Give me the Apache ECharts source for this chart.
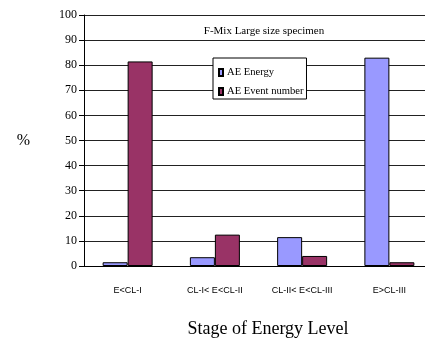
<!DOCTYPE html>
<html>
<head>
<meta charset="utf-8">
<script src="https://cdn.jsdelivr.net/npm/echarts@6/dist/echarts.min.js"></script>
<style>
  html, body { margin: 0; padding: 0; background: #fff; }
  #chart { width: 425px; height: 338px; }
</style>
</head>
<body>
<div id="chart"></div>
<script>
// Stages of energy level and AE percentages per stage
const stages = ['E<CL-I', 'CL-I< E<CL-II', 'CL-II< E<CL-III', 'E>CL-III'];
const aeEnergy = [1.5, 3.5, 11.5, 83];
const aeEventNumber = [81.5, 12.5, 4, 1.5];
const yTicks = [0, 10, 20, 30, 40, 50, 60, 70, 80, 90, 100];

const serif = '"Liberation Serif", "DejaVu Serif", serif';
const sans = '"Liberation Sans", Arial, sans-serif';

const chart = echarts.init(document.getElementById('chart'), null, { renderer: 'canvas' });

chart.setOption({
  animation: false,
  backgroundColor: '#ffffff',
  title: {
    text: 'F-Mix Large size specimen',
    left: 264,
    top: 26,
    textAlign: 'center',
    padding: 0,
    textStyle: { fontFamily: serif, fontSize: 11, fontWeight: 'normal', color: '#000' }
  },
  legend: {
    orient: 'vertical',
    left: 213,
    top: 58,
    padding: [9, 3, 2, 5],
    itemGap: 8,
    itemWidth: 4,
    itemHeight: 7,
    backgroundColor: '#ffffff',
    borderColor: '#000',
    borderWidth: 1,
    borderRadius: 0,
    icon: 'rect',
    data: ['AE Energy', 'AE Event number'],
    textStyle: { fontFamily: serif, fontSize: 10.6, lineHeight: 11, color: '#000', padding: [0, 0, 0, -1] }
  },
  grid: { left: 84, top: 15, width: 349, height: 251, containLabel: false, outerBoundsMode: 'none' },
  xAxis: {
    type: 'category',
    data: stages,
    name: 'Stage of Energy Level',
    nameLocation: 'middle',
    nameGap: 54,
    nameTextStyle: { fontFamily: serif, fontSize: 18, color: '#000', padding: [0, 0, 0, 19] },
    axisLine: { lineStyle: { color: '#000', width: 1 } },
    axisTick: { show: false },
    axisLabel: { fontFamily: sans, fontSize: 9, color: '#000', margin: 20, interval: 0 }
  },
  yAxis: {
    type: 'value',
    min: yTicks[0],
    max: yTicks[yTicks.length - 1],
    interval: 10,
    name: '%',
    nameLocation: 'middle',
    nameRotate: 0,
    nameGap: 54,
    nameTextStyle: { fontFamily: serif, fontSize: 16, color: '#000' },
    axisLine: { show: true, lineStyle: { color: '#000', width: 1 } },
    axisTick: { show: true, length: 5, inside: false, lineStyle: { color: '#000' } },
    axisLabel: { fontFamily: serif, fontSize: 12, color: '#000', margin: 7 },
    splitLine: { show: true, lineStyle: { color: '#222', width: 1 } }
  },
  series: [
    {
      name: 'AE Energy',
      type: 'bar',
      data: aeEnergy,
      barWidth: 25,
      barGap: '0%',
      itemStyle: { color: '#9999ff', borderColor: '#000', borderWidth: 1 }
    },
    {
      name: 'AE Event number',
      type: 'bar',
      data: aeEventNumber,
      barWidth: 25,
      barGap: '0%',
      itemStyle: { color: '#993366', borderColor: '#000', borderWidth: 1 }
    }
  ]
});
</script>
</body>
</html>
